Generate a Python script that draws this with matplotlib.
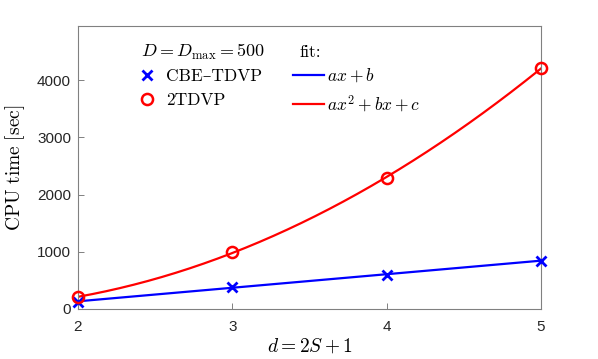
import matplotlib
matplotlib.use("Agg")
import matplotlib.pyplot as plt
from matplotlib.lines import Line2D
import numpy as np

plt.rcParams['mathtext.fontset'] = 'cm'
plt.rcParams['font.family'] = ['Liberation Sans', 'DejaVu Sans']

d = np.array([2, 3, 4, 5])
t_cbe = np.array([125, 390, 600, 845])
t_2tdvp = np.array([210, 990, 2300, 4210])

serif = ['cmr10', 'DejaVu Serif']

fig = plt.figure(figsize=(5.98, 3.59), dpi=100)
ax = fig.add_axes([78/598, 1 - 309/359, 463/598, 283/359])

# fits
xf = np.linspace(2, 5, 200)
p1 = np.polyfit(d, t_cbe, 1)
p2 = np.polyfit(d, t_2tdvp, 2)
ax.plot(xf, np.polyval(p1, xf), color='#0000ff', lw=1.6, zorder=2)
ax.plot(xf, np.polyval(p2, xf), color='#ff0000', lw=1.6, zorder=2)
ax.plot(d, t_cbe, 'x', color='#0000ff', ms=7, mew=2, zorder=3, clip_on=False)
ax.plot(d, t_2tdvp, 'o', mfc='none', mec='#ff0000', ms=8, mew=1.8, zorder=3, clip_on=False)

ax.set_xlim(2, 5)
ax.set_ylim(0, 4950)
ax.set_xticks([2, 3, 4, 5])
ax.set_yticks([0, 1000, 2000, 3000, 4000])
ax.tick_params(direction='in', length=4, width=0.7, color='#808080',
               labelsize=11, labelcolor='#262626', top=False, right=False)
ax.tick_params(axis='x', pad=8)
ax.tick_params(axis='y', pad=5)
for s in ax.spines.values():
    s.set_color('#808080')
    s.set_linewidth(0.8)

ax.set_xlabel(r'$d = 2S + 1$', fontsize=14, labelpad=2)
ax.set_ylabel(r'$\mathrm{CPU\ time\ [sec]}$', fontsize=14, labelpad=7)

# legend
handles = [
    Line2D([], [], ls='none', marker='x', color='#0000ff', ms=7, mew=2),
    Line2D([], [], ls='none', marker='o', mfc='none', mec='#ff0000', ms=8, mew=1.8),
    Line2D([], [], color='#0000ff', lw=1.6),
    Line2D([], [], color='#ff0000', lw=1.6),
]
labels = ['CBE–TDVP', '2TDVP', r'$ax + b$', r'$ax^2 + bx + c$']
leg = ax.legend(handles, labels, ncol=2, frameon=False, loc='upper left',
                bbox_to_anchor=(0.1156, 0.857), prop={'family': serif, 'size': 12.5},
                handlelength=1.8, handletextpad=0.2, columnspacing=1.75,
                labelspacing=0.5, borderaxespad=0, borderpad=0)
ax.text(0.136, 0.908, r'$D = D_{\max} = 500$', transform=ax.transAxes,
        fontsize=13, va='center', ha='left')
ax.text(0.479, 0.908, 'fit:', transform=ax.transAxes, family=serif,
        fontsize=12.5, va='center', ha='left')

fig.savefig('out.png', dpi=100)
